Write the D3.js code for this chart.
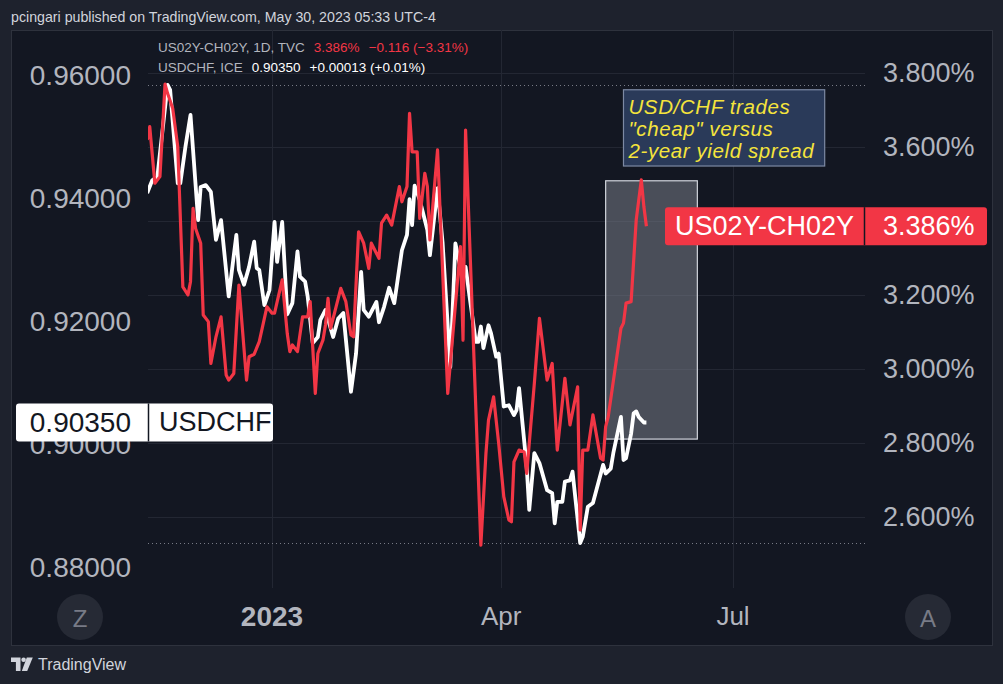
<!DOCTYPE html>
<html>
<head>
<meta charset="utf-8">
<script src="https://cdn.jsdelivr.net/npm/d3@7"></script>
<style>
    body { margin: 0; background: #1e222d; }
    svg { display: block; font-family: "Liberation Sans", Arial, sans-serif; }
</style>
</head>
<body>
<div id="chart-area"></div>
<script>
// USDCHF (left scale)
const usdchfDates = ["2022-11-15","2022-11-17","2022-11-19","2022-11-23","2022-11-24","2022-11-27","2022-11-28","2022-11-30",
    "2022-12-02","2022-12-05","2022-12-06","2022-12-08","2022-12-10","2022-12-12","2022-12-14","2022-12-17","2022-12-20",
    "2022-12-21","2022-12-23","2022-12-25","2022-12-27","2022-12-28","2022-12-29","2022-12-31","2023-01-02","2023-01-04",
    "2023-01-05","2023-01-07","2023-01-09","2023-01-11","2023-01-13","2023-01-14","2023-01-16","2023-01-17","2023-01-19",
    "2023-01-21","2023-01-22","2023-01-24","2023-01-27","2023-01-29","2023-01-31","2023-02-03","2023-02-05","2023-02-07",
    "2023-02-08","2023-02-10","2023-02-13","2023-02-14","2023-02-16","2023-02-18","2023-02-20","2023-02-23","2023-02-25",
    "2023-02-26","2023-02-27","2023-02-28","2023-03-02","2023-03-05","2023-03-06","2023-03-09","2023-03-11","2023-03-14",
    "2023-03-16","2023-03-18","2023-03-20","2023-03-24","2023-03-25","2023-03-26","2023-03-27","2023-03-29","2023-03-30",
    "2023-04-01","2023-04-02","2023-04-04","2023-04-06","2023-04-08","2023-04-09","2023-04-10","2023-04-13","2023-04-14",
    "2023-04-16","2023-04-18","2023-04-21","2023-04-23","2023-04-24","2023-04-25","2023-04-27","2023-04-28","2023-04-30",
    "2023-05-01","2023-05-04","2023-05-05","2023-05-07","2023-05-09","2023-05-13","2023-05-14","2023-05-16","2023-05-17",
    "2023-05-20","2023-05-21","2023-05-22","2023-05-24","2023-05-25","2023-05-26","2023-05-27","2023-05-29","2023-05-30"];
const usdchfValues = [0.9408,0.9429,0.9435,0.9584,0.9576,0.9424,0.9424,0.9483,
    0.9535,0.9364,0.9418,0.9421,0.9410,0.9332,0.9364,0.9240,0.9340,
    0.9283,0.9259,0.9288,0.9329,0.9286,0.9283,0.9226,0.9250,0.9361,
    0.9296,0.9361,0.9211,0.9229,0.9313,0.9272,0.9264,0.9240,0.9164,
    0.9174,0.9202,0.9218,0.9174,0.9204,0.9213,0.9085,0.9147,0.9280,
    0.9218,0.9207,0.9231,0.9198,0.9223,0.9254,0.9229,0.9315,0.9340,
    0.9398,0.9356,0.9420,0.9397,0.9348,0.9307,0.9416,0.9326,0.9125,
    0.9326,0.9286,0.9288,0.9166,0.9166,0.9191,0.9156,0.9193,0.9180,
    0.9142,0.9147,0.9061,0.9063,0.9047,0.9055,0.9091,0.8963,0.8893,
    0.8985,0.8969,0.8925,0.8920,0.8871,0.8906,0.8906,0.8939,0.8941,
    0.8955,0.8839,0.8849,0.8898,0.8904,0.8966,0.8952,0.8960,0.8985,
    0.9044,0.8974,0.8977,0.9017,0.9050,0.9053,0.9044,0.9035,0.9035];

// US02Y-CH02Y spread in % (right scale)
const spreadDates = ["2022-11-15","2022-11-16","2022-11-18","2022-11-20","2022-11-22","2022-11-23","2022-11-25","2022-11-27",
    "2022-11-29","2022-12-01","2022-12-02","2022-12-03","2022-12-04","2022-12-06","2022-12-07","2022-12-09","2022-12-10",
    "2022-12-12","2022-12-14","2022-12-16","2022-12-17","2022-12-19","2022-12-21","2022-12-24","2022-12-25","2022-12-27",
    "2022-12-29","2023-01-01","2023-01-03","2023-01-04","2023-01-07","2023-01-09","2023-01-10","2023-01-11","2023-01-13",
    "2023-01-15","2023-01-17","2023-01-18","2023-01-20","2023-01-21","2023-01-23","2023-01-24","2023-01-25","2023-01-26",
    "2023-01-28","2023-01-30","2023-02-01","2023-02-03","2023-02-04","2023-02-06","2023-02-08","2023-02-10","2023-02-11",
    "2023-02-14","2023-02-15","2023-02-17","2023-02-19","2023-02-22","2023-02-23","2023-02-25","2023-02-26","2023-02-27",
    "2023-03-01","2023-03-02","2023-03-04","2023-03-05","2023-03-06","2023-03-09","2023-03-13","2023-03-18","2023-03-19",
    "2023-03-20","2023-03-26","2023-03-28","2023-03-29","2023-03-31","2023-04-02","2023-04-04","2023-04-06","2023-04-07",
    "2023-04-08","2023-04-10","2023-04-12","2023-04-13","2023-04-16","2023-04-18","2023-04-21","2023-04-23","2023-04-24",
    "2023-04-25","2023-04-28","2023-04-30","2023-05-03","2023-05-04","2023-05-05","2023-05-07","2023-05-09","2023-05-12",
    "2023-05-13","2023-05-14","2023-05-15","2023-05-20","2023-05-21","2023-05-22","2023-05-24","2023-05-26","2023-05-28",
    "2023-05-29","2023-05-30"];
const spreadValues = [3.619,3.655,3.502,3.520,3.770,3.745,3.705,3.601,
    3.222,3.200,3.236,3.434,3.380,3.340,3.146,3.128,3.015,
    3.087,3.141,2.984,2.970,2.988,3.227,2.970,3.033,3.040,
    3.074,3.168,3.151,3.151,3.241,3.095,3.047,3.065,3.047,
    3.141,3.141,3.182,2.934,3.042,3.078,3.119,3.191,3.110,
    3.164,3.218,3.182,3.092,3.087,3.371,3.340,3.272,3.340,
    3.299,3.394,3.416,3.389,3.493,3.452,3.493,3.691,3.587,
    3.587,3.407,3.529,3.493,3.349,3.592,2.934,3.331,3.078,
    3.646,2.524,2.772,2.862,2.925,2.799,2.655,2.592,2.587,
    2.749,2.781,2.776,2.718,2.961,3.137,2.970,3.015,2.898,
    2.781,2.975,2.849,2.952,2.565,2.781,2.781,2.876,2.759,
    2.754,2.844,2.871,3.110,3.124,3.178,3.182,3.403,3.511,
    3.439,3.386];

const leftTicks = [0.96, 0.94, 0.92, 0.90, 0.88];
const rightTicks = [3.8, 3.6, 3.4, 3.2, 3.0, 2.8, 2.6];
const timeTickDates = ["2023-01-03", "2023-04-03", "2023-07-03"];
const timeTickLabels = ["2023", "Apr", "Jul"];

// shaded "cheap" zone and the note above it
const zoneDates = ["2023-05-14", "2023-06-19"];
const zoneRange = [0.9008, 0.9428];
const noteDates = ["2023-05-21", "2023-08-08"];
const noteRange = [0.9452, 0.9576];
const noteLines = ["USD/CHF trades", "\"cheap\" versus", "2-year yield spread"];

const width = 1003;
const height = 684;
const plot = { left: 148, right: 865, top: 30, bottom: 588 };

const parse = d3.timeParse("%Y-%m-%d");
const usdchf = usdchfDates.map((d, i) => ({ date: parse(d), value: usdchfValues[i] }));
const spread = spreadDates.map((d, i) => ({ date: parse(d), value: spreadValues[i] }));

const x = d3.scaleTime()
    .domain([parse("2023-01-03"), parse("2023-07-03")])
    .range([272, 733]);
const yLeft = d3.scaleLinear().domain([0.88, 0.96]).range([567, 75]);
const yRight = d3.scaleLinear().domain([2.6, 3.8]).range([517, 73]);

const lastChf = usdchf[usdchf.length - 1];
const lastSpread = spread[spread.length - 1];
const ly = yLeft(lastChf.value);
const ry = yRight(lastSpread.value);

const svg = d3.select("#chart-area")
    .append("svg")
    .attr("width", width)
    .attr("height", height);

svg.append("rect").attr("width", width).attr("height", height).attr("fill", "#1e222d");
svg.append("rect")
    .attr("x", 11.5).attr("y", 30.5).attr("width", 981).attr("height", 615)
    .attr("fill", "#131722").attr("stroke", "#2e323d");

svg.append("defs").append("clipPath").attr("id", "plot-clip")
    .append("rect")
    .attr("x", plot.left).attr("y", plot.top)
    .attr("width", plot.right - plot.left).attr("height", plot.bottom - plot.top);

// grid
svg.append("g").selectAll("line")
    .data(rightTicks)
    .join("line")
    .attr("x1", plot.left).attr("x2", plot.right)
    .attr("y1", d => Math.round(yRight(d)) + 0.5).attr("y2", d => Math.round(yRight(d)) + 0.5)
    .attr("stroke", "#232733");
svg.append("g").selectAll("line")
    .data(timeTickDates)
    .join("line")
    .attr("x1", d => Math.round(x(parse(d))) + 0.5).attr("x2", d => Math.round(x(parse(d))) + 0.5)
    .attr("y1", plot.top).attr("y2", plot.bottom)
    .attr("stroke", "#232733");

// high / low dotted markers
const [lo, hi] = d3.extent(usdchfValues);
svg.append("g").selectAll("line")
    .data([hi, lo])
    .join("line")
    .attr("x1", plot.left).attr("x2", plot.right)
    .attr("y1", d => Math.round(yLeft(d)) + 0.5).attr("y2", d => Math.round(yLeft(d)) + 0.5)
    .attr("stroke", "#787b86")
    .attr("stroke-dasharray", "1,3");

// shaded zone
svg.append("rect")
    .attr("x", x(parse(zoneDates[0])))
    .attr("y", yLeft(zoneRange[1]))
    .attr("width", x(parse(zoneDates[1])) - x(parse(zoneDates[0])))
    .attr("height", yLeft(zoneRange[0]) - yLeft(zoneRange[1]))
    .attr("fill", "rgba(120,123,134,0.55)")
    .attr("stroke", "#d1d4dc")
    .attr("stroke-width", 1.2);

const g = svg.append("g").attr("clip-path", "url(#plot-clip)");

g.append("path")
    .datum(usdchf)
    .attr("fill", "none")
    .attr("stroke", "#ffffff")
    .attr("stroke-width", 3.8)
    .attr("stroke-linejoin", "round")
    .attr("d", d3.line().x(d => x(d.date)).y(d => yLeft(d.value)));

g.append("path")
    .datum(spread)
    .attr("fill", "none")
    .attr("stroke", "#f23645")
    .attr("stroke-width", 3.2)
    .attr("stroke-linejoin", "round")
    .attr("d", d3.line().x(d => x(d.date)).y(d => yRight(d.value)));

// note box
const nx0 = x(parse(noteDates[0]));
const nx1 = x(parse(noteDates[1]));
const ny0 = yLeft(noteRange[1]);
const ny1 = yLeft(noteRange[0]);
svg.append("rect")
    .attr("x", nx0).attr("y", ny0)
    .attr("width", nx1 - nx0).attr("height", ny1 - ny0)
    .attr("fill", "#2a3a59")
    .attr("stroke", "#7d89a3")
    .attr("stroke-width", 1.2);
svg.append("g").selectAll("text")
    .data(noteLines)
    .join("text")
    .attr("x", nx0 + 5)
    .attr("y", (d, i) => ny0 + 17 + i * 22)
    .attr("dominant-baseline", "central")
    .style("font-size", "20.5px")
    .style("letter-spacing", "0.6px")
    .style("font-style", "italic")
    .attr("fill", "#f5e43c")
    .text(d => d);

// left axis
svg.append("g").selectAll("text")
    .data(leftTicks)
    .join("text")
    .attr("x", 131)
    .attr("y", d => yLeft(d))
    .attr("text-anchor", "end")
    .attr("dominant-baseline", "central")
    .style("font-size", "28px")
    .attr("fill", "#b2b5be")
    .text(d => d3.format(".5f")(d));

// right axis (the label under the last-value tag is hidden, as in TradingView)
svg.append("g").selectAll("text")
    .data(rightTicks.filter(d => Math.abs(yRight(d) - ry) > 20))
    .join("text")
    .attr("x", 883)
    .attr("y", d => yRight(d))
    .attr("dominant-baseline", "central")
    .style("font-size", "27px")
    .attr("fill", "#b2b5be")
    .text(d => d3.format(".3f")(d) + "%");

// time axis
svg.append("g").selectAll("text")
    .data(timeTickDates)
    .join("text")
    .attr("x", d => x(parse(d)))
    .attr("y", 616)
    .attr("text-anchor", "middle")
    .attr("dominant-baseline", "central")
    .style("font-size", (d, i) => i === 0 ? "28px" : "26px")
    .style("font-weight", (d, i) => i === 0 ? "bold" : "normal")
    .attr("fill", "#b2b5be")
    .text((d, i) => timeTickLabels[i]);

// last value labels
svg.append("rect")
    .attr("x", 16).attr("y", ly - 19).attr("width", 257).attr("height", 38)
    .attr("rx", 3).attr("fill", "#ffffff");
svg.append("line")
    .attr("x1", 148.5).attr("x2", 148.5).attr("y1", ly - 19).attr("y2", ly + 19)
    .attr("stroke", "#131722").attr("stroke-width", 1.5);
svg.append("text").attr("x", 131).attr("y", ly).attr("text-anchor", "end")
    .attr("dominant-baseline", "central").style("font-size", "28px").attr("fill", "#131722")
    .text(d3.format(".5f")(lastChf.value));
svg.append("text").attr("x", 159).attr("y", ly)
    .attr("dominant-baseline", "central").style("font-size", "27px").attr("fill", "#131722")
    .text("USDCHF");

svg.append("rect")
    .attr("x", 665).attr("y", ry - 19).attr("width", 322).attr("height", 38)
    .attr("rx", 3).attr("fill", "#f23645");
svg.append("line")
    .attr("x1", 864.5).attr("x2", 864.5).attr("y1", ry - 19).attr("y2", ry + 19)
    .attr("stroke", "#131722").attr("stroke-width", 1.5);
svg.append("text").attr("x", 675).attr("y", ry)
    .attr("dominant-baseline", "central").style("font-size", "27px").attr("fill", "#ffffff")
    .text("US02Y-CH02Y");
svg.append("text").attr("x", 883).attr("y", ry)
    .attr("dominant-baseline", "central").style("font-size", "27px").attr("fill", "#ffffff")
    .text(d3.format(".3f")(lastSpread.value) + "%");

// legend
const leg1 = svg.append("text").attr("x", 158).attr("y", 47)
    .attr("dominant-baseline", "central").style("font-size", "13.5px");
leg1.append("tspan").attr("fill", "#b2b5be").text("US02Y-CH02Y, 1D, TVC");
leg1.append("tspan").attr("fill", "#f23645").attr("dx", 9).text("3.386%");
leg1.append("tspan").attr("fill", "#f23645").attr("dx", 9).text("\u22120.116 (\u22123.31%)");

const leg2 = svg.append("text").attr("x", 158).attr("y", 67)
    .attr("dominant-baseline", "central").style("font-size", "13.5px");
leg2.append("tspan").attr("fill", "#b2b5be").text("USDCHF, ICE");
leg2.append("tspan").attr("fill", "#ffffff").attr("dx", 9).text("0.90350");
leg2.append("tspan").attr("fill", "#ffffff").attr("dx", 9).text("+0.00013 (+0.01%)");

// header
svg.append("text").attr("x", 11).attr("y", 17)
    .attr("dominant-baseline", "central").style("font-size", "14.2px").attr("fill", "#d1d4dc")
    .text("pcingari published on TradingView.com, May 30, 2023 05:33 UTC-4");

// Z / A buttons
svg.append("g").selectAll("circle")
    .data([80, 928])
    .join("circle")
    .attr("cx", d => d).attr("cy", 617).attr("r", 23)
    .attr("fill", "#262a35");
svg.append("g").selectAll("text")
    .data([[80, "Z"], [928, "A"]])
    .join("text")
    .attr("x", d => d[0]).attr("y", 618)
    .attr("text-anchor", "middle").attr("dominant-baseline", "central")
    .style("font-size", "24px").attr("fill", "#787b86")
    .text(d => d[1]);

// footer logo
const logo = svg.append("g").attr("fill", "#d1d4dc");
logo.append("path").attr("d", "M11,657.5h9.5v13.5h-4.6v-9h-4.9z");
logo.append("circle").attr("cx", 23.6).attr("cy", 659.8).attr("r", 2.3);
logo.append("path").attr("d", "M26.8,657.5h6l-5.6,13.5h-5.4z");
svg.append("text").attr("x", 38).attr("y", 664)
    .attr("dominant-baseline", "central").style("font-size", "16px").attr("fill", "#d1d4dc")
    .text("TradingView");
</script>
</body>
</html>
